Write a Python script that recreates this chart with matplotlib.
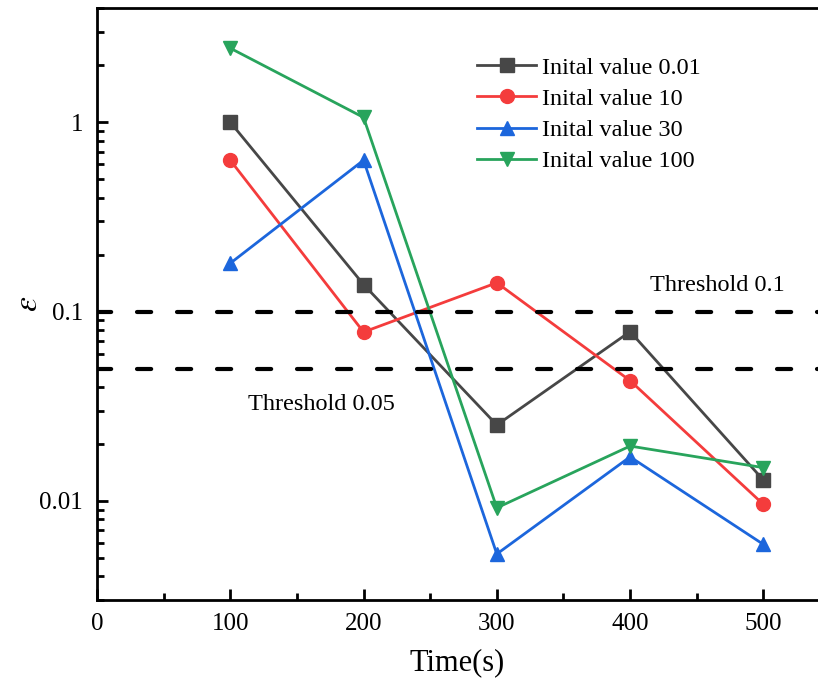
import matplotlib
matplotlib.use("Agg")
import matplotlib.pyplot as plt
from matplotlib.ticker import FixedLocator, LogLocator, NullFormatter, FixedFormatter

plt.rcParams['font.family'] = ['Liberation Serif', 'DejaVu Serif']
plt.rcParams['mathtext.fontset'] = 'stix'

time_s = [100, 200, 300, 400, 500]
eps_001 = [1.0, 0.139, 0.0252, 0.0784, 0.0129]
eps_10 = [0.63, 0.078, 0.142, 0.0432, 0.0096]
eps_30 = [0.18, 0.63, 0.00525, 0.0171, 0.0059]
eps_100 = [2.46, 1.06, 0.0092, 0.0195, 0.0150]
labels = ['Inital value 0.01', 'Inital value 10', 'Inital value 30', 'Inital value 100']
thresholds = [0.1, 0.05]

fig = plt.figure(figsize=(8.18, 6.83), dpi=100)
ax = fig.add_axes([0.1186, 0.1215, 0.8814, 0.8665])

series = [
    (eps_001, '#474747', 's'),
    (eps_10, '#F43C3C', 'o'),
    (eps_30, '#1C66DC', '^'),
    (eps_100, '#28A45C', 'v'),
]
for (vals, col, mk), lab in zip(series, labels):
    ax.plot(time_s, vals, color=col, marker=mk, markersize=10, linewidth=2,
            label=lab)

# threshold lines
for t in thresholds:
    ax.axhline(t, color='black', linestyle=(0, (3.4, 6.2)), linewidth=3,
               dash_capstyle='round')

ax.text(415, 0.137, 'Threshold 0.1', fontsize=17.5, ha='left', va='center')
ax.text(113, 0.0322, 'Threshold 0.05', fontsize=17.5, ha='left', va='center')

ax.set_yscale('log')
ax.set_xlim(0, 541)
ax.set_ylim(0.003, 4.0)
ax.xaxis.set_major_locator(FixedLocator([0, 100, 200, 300, 400, 500]))
ax.xaxis.set_minor_locator(FixedLocator([50, 150, 250, 350, 450]))
ax.yaxis.set_major_locator(FixedLocator([0.01, 0.1, 1]))
ax.yaxis.set_major_formatter(FixedFormatter(['0.01', '0.1', '1']))
ax.yaxis.set_minor_locator(LogLocator(base=10, subs=range(2, 10)))
ax.yaxis.set_minor_formatter(NullFormatter())

ax.tick_params(which='both', direction='in', labelsize=18, width=2)
ax.tick_params(which='major', length=8)
ax.tick_params(which='minor', length=5)
ax.tick_params(axis='x', pad=9)
ax.tick_params(axis='y', pad=10)

for s in ['left', 'bottom', 'top']:
    ax.spines[s].set_linewidth(2)
ax.spines['right'].set_visible(False)

ax.set_xlabel('Time(s)', fontsize=22, labelpad=10)
ax.set_ylabel(r'$\varepsilon$', fontsize=24, labelpad=-3)

ax.legend(loc='upper left', bbox_to_anchor=(0.527, 0.918), frameon=False,
          fontsize=17.5, handlelength=2.43, handletextpad=0.25,
          labelspacing=0.38, borderpad=0, borderaxespad=0)

fig.savefig('out.png', dpi=100)
